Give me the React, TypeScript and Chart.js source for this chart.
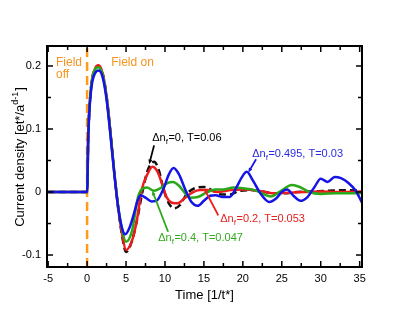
import { useEffect, useRef } from 'react';
import { Chart, registerables } from 'chart.js';

Chart.register(...registerables);

// ---------- data ----------
const xTicks = [-5, 0, 5, 10, 15, 20, 25, 30, 35];
const xTickLabels = ['-5', '0', '5', '10', '15', '20', '25', '30', '35'];
const yTicks = [-0.1, 0, 0.1, 0.2];
const yTickLabels = ['-0.1', '0', '0.1', '0.2'];
const xRange = [-5.15, 35.3];
const yRange = [-0.119, 0.2317];

const fieldOnTime = [0, 0];
const fieldOnLevel = [-0.119, 0.2317];

const blackT = [-5, 0, 0.15, 0.5, 1.0, 1.45, 2.0, 2.5, 3.0, 3.5, 4.0, 4.5, 5.0, 5.7, 6.4, 7.1, 7.8, 8.6, 9.2, 9.8, 10.5, 11.2, 11.9, 12.8, 13.8, 15.0, 16.2, 17.3, 18.3, 19.6, 21, 22.5, 24, 25.3, 27, 29, 31, 33.4, 35.3];
const blackV = [0, 0, 0.09, 0.165, 0.195, 0.2, 0.188, 0.152, 0.095, 0.03, -0.027, -0.07, -0.095, -0.08, -0.045, 0.0, 0.035, 0.048, 0.035, 0.005, -0.018, -0.026, -0.021, -0.003, 0.006, 0.008, 0.002, -0.004, -0.004, 0.002, 0.003, 0.001, -0.002, -0.002, 0.0, 0.001, 0.002, 0.003, 0.002];

const redT = [-5, 0, 0.15, 0.5, 1.0, 1.45, 2.0, 2.5, 3.0, 3.5, 4.0, 4.5, 5.0, 5.8, 6.4, 7.0, 7.7, 8.4, 9.0, 9.6, 10.2, 10.9, 11.6, 12.5, 13.5, 14.5, 15.5, 16.7, 18.5, 20, 22, 24, 26, 28, 30, 32, 35.3];
const redV = [0, 0, 0.09, 0.165, 0.195, 0.201, 0.188, 0.152, 0.095, 0.03, -0.025, -0.067, -0.092, -0.076, -0.044, 0.003, 0.027, 0.04, 0.033, 0.014, -0.008, -0.017, -0.018, -0.01, -0.001, 0.003, 0.003, 0.0, 0.003, 0.004, 0.002, -0.002, -0.001, 0.0, 0.001, 0.0, 0.001];

const greenT = [-5, 0, 0.15, 0.5, 1.0, 1.45, 2.0, 2.5, 3.0, 3.5, 4.0, 4.5, 5.0, 5.8, 6.5, 7.0, 7.7, 8.6, 9.4, 10.3, 11.0, 11.8, 12.6, 13.3, 14.2, 15.3, 16.5, 17.5, 18.8, 20, 21.5, 22.6, 23.6, 24.8, 26.3, 27.3, 28.5, 30, 32, 35.3];
const greenV = [0, 0, 0.09, 0.165, 0.194, 0.198, 0.186, 0.15, 0.093, 0.03, -0.024, -0.06, -0.079, -0.06, -0.01, 0.004, 0.007, 0.002, 0.006, 0.014, 0.016, 0.01, -0.002, -0.009, -0.008, -0.001, 0.004, 0.004, 0.007, 0.006, 0.003, -0.003, -0.007, 0.001, 0.011, 0.008, 0.0, -0.003, -0.002, -0.002];

const blueT = [-5, 0, 0.15, 0.5, 1.0, 1.5, 2.0, 2.5, 3.0, 3.5, 4.0, 4.5, 4.9, 5.4, 6.0, 6.5, 6.9, 7.5, 8.3, 9.0, 9.8, 10.5, 11.1, 11.8, 12.6, 13.4, 14.2, 15.0, 15.8, 16.5, 17.4, 18.3, 19.2, 19.8, 20.5, 21.3, 22.3, 23.4, 24.3, 25.0, 25.7, 26.5, 27.4, 28.3, 29.2, 30.0, 30.9, 31.8, 32.6, 33.6, 34.5, 35.3];
const blueV = [0, 0, 0.088, 0.16, 0.188, 0.193, 0.182, 0.147, 0.09, 0.028, -0.025, -0.058, -0.067, -0.058, -0.035, -0.013, -0.005, -0.009, -0.015, -0.013, 0.005, 0.028, 0.038, 0.028, 0.004, -0.016, -0.022, -0.014, -0.006, -0.005, -0.008, -0.008, 0.008, 0.022, 0.032, 0.018, -0.003, -0.016, -0.01, 0.0, 0.004, -0.006, -0.014, -0.008, 0.008, 0.021, 0.016, 0.024, 0.022, 0.014, 0.002, -0.017];

// annotation labels (text, colour) with anchor positions in data units
const labelTexts = ['=0, T=0.06', '=0.495, T=0.03', '=0.2, T=0.053', '=0.4, T=0.047'];
const labelColors = ['#000000', '#2a2ae0', '#e62020', '#34a81e'];
const labelT = [8.36, 21.2, 17.1, 9.13];
const labelV = [0.081, 0.0556, -0.0476, -0.0778];
const arrowFromT = [8.6, 21.7, 16.85, 10.4];
const arrowFromV = [0.074, 0.052, -0.037, -0.063];
const arrowToT = [7.97, 20.7, 15.05, 8.36];
const arrowToV = [0.044, 0.031, 0.005, 0.002];
const arrowColors = ['#000000', '#1414e6', '#ee1c1c', '#2aa81a'];

const FONT = '"Liberation Sans", Arial, Helvetica, sans-serif';

function pts(t: number[], v: number[]) {
  return t.map((x, i) => ({ x, y: v[i] }));
}

const decoPlugin = {
  id: 'deco',
  afterDraw(chart: any) {
    const { ctx, chartArea: a, scales } = chart;
    const x = scales.x;
    const y = scales.y;
    ctx.save();

    // frame
    ctx.strokeStyle = '#000';
    ctx.lineWidth = 2;
    ctx.strokeRect(a.left, a.top, a.right - a.left, a.bottom - a.top);

    // inward ticks on all four sides
    ctx.lineWidth = 1.5;
    const seg = (x1: number, y1: number, x2: number, y2: number) => {
      ctx.beginPath();
      ctx.moveTo(x1, y1);
      ctx.lineTo(x2, y2);
      ctx.stroke();
    };
    const xStep = xTicks[1] - xTicks[0];
    for (let i = 0; i < xTicks.length; i++) {
      const vals = [xTicks[i]];
      if (i < xTicks.length - 1) vals.push(xTicks[i] + xStep / 2);
      if (i === 0) vals.push(xTicks[i] - xStep / 2);
      vals.forEach((v, k) => {
        if (v < xRange[0] || v > xRange[1]) return;
        const px = x.getPixelForValue(v);
        const len = k === 0 ? 6 : 4;
        seg(px, a.bottom, px, a.bottom - len);
        seg(px, a.top, px, a.top + len);
      });
    }
    const yStep = yTicks[1] - yTicks[0];
    for (let i = 0; i < yTicks.length; i++) {
      const vals = [yTicks[i]];
      vals.push(yTicks[i] + yStep / 2);
      if (i === 0) vals.push(yTicks[i] - yStep / 2);
      vals.forEach((v, k) => {
        if (v < yRange[0] || v > yRange[1]) return;
        const py = y.getPixelForValue(v);
        const len = k === 0 ? 6 : 4;
        seg(a.left, py, a.left + len, py);
        seg(a.right, py, a.right - len, py);
      });
    }

    // arrows
    for (let i = 0; i < arrowFromT.length; i++) {
      const x1 = x.getPixelForValue(arrowFromT[i]);
      const y1 = y.getPixelForValue(arrowFromV[i]);
      const x2 = x.getPixelForValue(arrowToT[i]);
      const y2 = y.getPixelForValue(arrowToV[i]);
      ctx.strokeStyle = arrowColors[i];
      ctx.fillStyle = arrowColors[i];
      ctx.lineWidth = 1.8;
      const ang = Math.atan2(y2 - y1, x2 - x1);
      const hl = 5;
      seg(x1, y1, x2 - Math.cos(ang) * 3, y2 - Math.sin(ang) * 3);
      ctx.beginPath();
      ctx.moveTo(x2, y2);
      ctx.lineTo(x2 - hl * Math.cos(ang - 0.4), y2 - hl * Math.sin(ang - 0.4));
      ctx.lineTo(x2 - hl * Math.cos(ang + 0.4), y2 - hl * Math.sin(ang + 0.4));
      ctx.closePath();
      ctx.fill();
    }

    // annotation labels: Δn_f=...
    ctx.textBaseline = 'alphabetic';
    ctx.textAlign = 'left';
    for (let i = 0; i < labelTexts.length; i++) {
      let px = x.getPixelForValue(labelT[i]);
      const py = y.getPixelForValue(labelV[i]);
      ctx.fillStyle = labelColors[i];
      ctx.font = `11px ${FONT}`;
      ctx.fillText('\u0394n', px, py);
      px += ctx.measureText('\u0394n').width;
      ctx.font = `8px ${FONT}`;
      ctx.fillText('f', px, py + 3);
      px += ctx.measureText('f').width + 0.5;
      ctx.font = `11px ${FONT}`;
      ctx.fillText(labelTexts[i], px, py);
    }

    // Field off / Field on
    ctx.fillStyle = '#f7941d';
    ctx.font = `12px ${FONT}`;
    const fx = x.getPixelForValue(-3.99);
    const fy = y.getPixelForValue(0.2);
    ctx.fillText('Field', fx, fy);
    ctx.fillText('off', fx, fy + 12);
    ctx.fillText('Field on', x.getPixelForValue(3.09), fy);

    // x axis title
    ctx.fillStyle = '#000';
    ctx.font = `13px ${FONT}`;
    ctx.textAlign = 'center';
    ctx.textBaseline = 'middle';
    ctx.fillText('Time [1/t*]', (a.left + a.right) / 2, 295);

    // y axis title with superscript
    ctx.save();
    ctx.translate(24, (a.top + a.bottom) / 2 + 0.5);
    ctx.rotate(-Math.PI / 2);
    ctx.textAlign = 'left';
    ctx.textBaseline = 'alphabetic';
    const p1 = 'Current density [et*/a';
    const p2 = 'd-1';
    const p3 = ']';
    ctx.font = `13px ${FONT}`;
    const w1 = ctx.measureText(p1).width;
    const w3 = ctx.measureText(p3).width;
    ctx.font = `9px ${FONT}`;
    const w2 = ctx.measureText(p2).width;
    let sx = -(w1 + w2 + w3 + 1) / 2;
    ctx.font = `13px ${FONT}`;
    ctx.fillText(p1, sx, 0);
    sx += w1;
    ctx.font = `9px ${FONT}`;
    ctx.fillText(p2, sx, -6);
    sx += w2 + 1;
    ctx.font = `13px ${FONT}`;
    ctx.fillText(p3, sx, 0);
    ctx.restore();

    ctx.restore();
  },
};

export default function App() {
  const ref = useRef<HTMLCanvasElement | null>(null);

  useEffect(() => {
    if (!ref.current) return;
    const curve = (label: string, t: number[], v: number[], color: string, dash: number[] = []) => ({
      label,
      data: pts(t, v),
      borderColor: color,
      borderWidth: 2.5,
      borderDash: dash,
      pointRadius: 0,
      cubicInterpolationMode: 'monotone' as const,
      fill: false,
    });
    const chart = new Chart(ref.current, {
      type: 'line',
      data: {
        datasets: [
          curve('blue', blueT, blueV, '#1414e6'),
          curve('green', greenT, greenV, '#2aa81a'),
          curve('red', redT, redV, '#ee1c1c'),
          curve('black', blackT, blackV, '#111111', [7, 4]),
          {
            label: 'field',
            data: pts(fieldOnTime, fieldOnLevel),
            borderColor: '#ff9a1a',
            borderWidth: 2.5,
            borderDash: [9, 5],
            pointRadius: 0,
            tension: 0,
            fill: false,
          },
        ],
      },
      options: {
        animation: false,
        responsive: false,
        devicePixelRatio: 1,
        layout: { padding: { left: 0, top: 46, right: 45, bottom: 0 } },
        plugins: { legend: { display: false }, tooltip: { enabled: false } },
        scales: {
          x: {
            type: 'linear',
            min: xRange[0],
            max: xRange[1],
            grid: { display: false, drawTicks: false },
            border: { display: false },
            afterBuildTicks: (s: any) => {
              s.ticks = xTicks.map((v) => ({ value: v }));
            },
            afterFit: (s: any) => {
              s.height = 48;
            },
            ticks: {
              padding: 5,
              maxRotation: 0,
              autoSkip: false,
              color: '#000',
              font: { family: FONT, size: 11 },
              callback: (_v: any, i: number) => xTickLabels[i],
            },
          },
          y: {
            type: 'linear',
            min: yRange[0],
            max: yRange[1],
            grid: { display: false, drawTicks: false },
            border: { display: false },
            afterBuildTicks: (s: any) => {
              s.ticks = yTicks.map((v) => ({ value: v }));
            },
            afterFit: (s: any) => {
              s.width = 47;
            },
            ticks: {
              padding: 6,
              autoSkip: false,
              color: '#000',
              font: { family: FONT, size: 11 },
              callback: (_v: any, i: number) => yTickLabels[i],
            },
          },
        },
      },
      plugins: [decoPlugin],
    });
    return () => chart.destroy();
  }, []);

  return (
    <div style={{ position: 'fixed', left: 0, top: 0, width: 407, height: 315, background: '#fff' }}>
      <canvas ref={ref} width={407} height={315} />
    </div>
  );
}
